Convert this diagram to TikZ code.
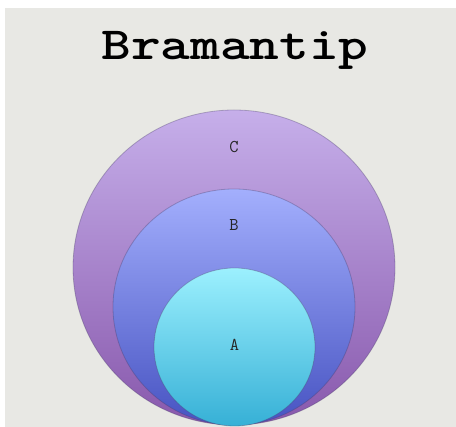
\documentclass[tikz,border=0pt]{standalone}
\usepackage{fontspec}
\usepackage{tikz}
\usetikzlibrary{positioning,shapes.geometric}
\definecolor{paper}{HTML}{E8E8E4}
\definecolor{ctop}{HTML}{C6AFEA}
\definecolor{cbot}{HTML}{8858AC}
\definecolor{btop}{HTML}{A3AFFD}
\definecolor{bbot}{HTML}{4753C2}
\definecolor{atop}{HTML}{9CF0FE}
\definecolor{abot}{HTML}{36B0D6}
\definecolor{rim}{HTML}{4A3F6A}

\begin{document}
\begin{tikzpicture}[
 x=1pt,y=-1pt,
 set/.style={ellipse,inner sep=0pt,draw=rim,draw opacity=0.35,line width=0.8pt},
 lbl/.style={font=\ttfamily\fontsize{18}{18}\selectfont,text=black!85,inner sep=0pt}
]
\useasboundingbox (0,0) rectangle (456,427);
\fill[white] (0,0) rectangle (456,427);
\fill[paper] (5,8) rectangle (456,427);
\node[font=\ttfamily\bfseries\fontsize{46}{46}\selectfont,anchor=base] (title) at (235,60) {\scalebox{1.23}[1]{Bramantip}};

\node[set,top color=ctop,bottom color=cbot,minimum width=322pt,minimum height=315pt] (C) at (234,267.5) {};
\node[set,top color=btop,bottom color=bbot,minimum width=242pt,minimum height=236pt] (B) at (234,307) {};
\node[set,top color=atop,bottom color=abot,minimum width=161pt,minimum height=158pt] (A) at (234.5,347) {};

\node[lbl,below=31pt of C.north] (lc) {C};
\node[lbl,below=31pt of B.north] (lb) {B};
\node[lbl,below=71pt of A.north] (la) {A};
\end{tikzpicture}
\end{document}
